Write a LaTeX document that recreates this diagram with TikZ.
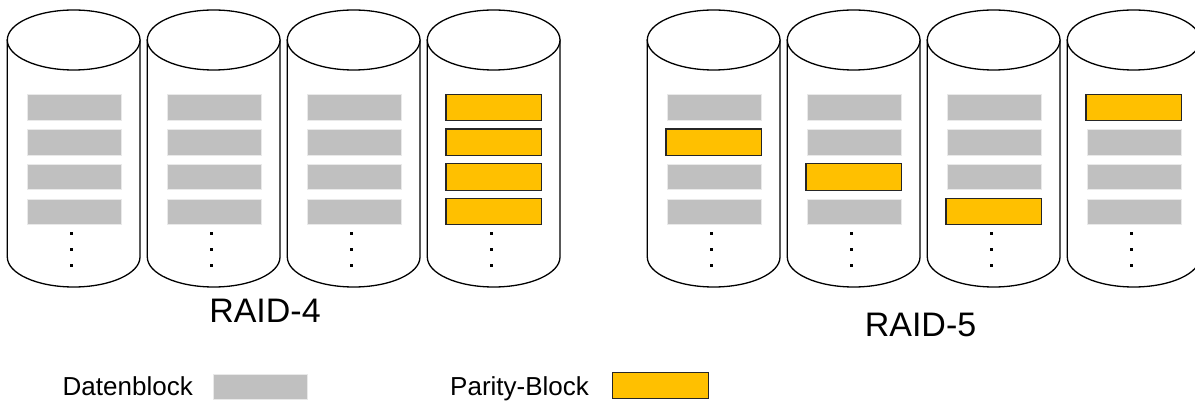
\documentclass[tikz,border=0pt]{standalone}
\usepackage{fontspec}
\setmainfont{Liberation Sans}
\definecolor{datagray}{HTML}{C0C0C0}
\definecolor{parityorange}{HTML}{FFC000}
\begin{document}
\begin{tikzpicture}[x=1pt,y=-1pt,
  disk/.style={draw=black,line width=1.3pt,fill=white},
  datablk/.style={fill=datagray,draw=datagray!35!white,line width=0.6pt,
    minimum width=94pt,minimum height=25.5pt,inner sep=0pt},
  parityblk/.style={fill=parityorange,draw=black!85,line width=1.2pt,
    minimum width=95.5pt,minimum height=26.5pt,inner sep=0pt},
  dotmark/.style={fill=black},
  raidlabel/.style={anchor=base,inner sep=0pt,font=\fontsize{34}{40}\selectfont},
  legendlabel/.style={anchor=base west,inner sep=0pt,font=\fontsize{26}{30}\selectfont}]
\useasboundingbox (0,0) rectangle (1195,403);
\clip (0,0) rectangle (1195,403);

% cylinder outline: sides and lower rim, then the top ellipse, then the ellipsis dots
\newcommand\diskshape[1]{%
  \path[disk] (#1,40) -- (#1,257) arc[start angle=180,end angle=360,x radius=66.35pt,y radius=30pt]
    -- ({#1+132.7},40) -- cycle;
  \draw[disk] ({#1+66.35},40) ellipse[x radius=66.35pt,y radius=30pt];
  \foreach \dy in {233.3,249.5,265.7}{
    \fill[dotmark] ({#1+62.6},{\dy-1.4}) rectangle ++(2.8,2.8);
  }
}

% RAID-4: three data disks and one dedicated parity disk
\foreach \k/\l in {1/7.3,2/147.3,3/287.3,4/427.3}{
  \diskshape{\l}
  \foreach \r/\y in {1/107.5,2/142.2,3/176.9,4/211.6}{
    \ifnum\k=4
      \node[parityblk] (rfour-\k-\r) at ({\l+66.5},\y) {};
    \else
      \node[datablk] (rfour-\k-\r) at ({\l+66.5},\y) {};
    \fi
  }
}
\node[raidlabel] (rfourlabel) at (265,323) {RAID-4};

% RAID-5: parity rotates across the disks
\foreach \k/\l/\p in {1/647.3/2,2/787.3/3,3/927.3/4,4/1067.3/1}{
  \diskshape{\l}
  \foreach \r/\y in {1/107.5,2/142.2,3/176.9,4/211.6}{
    \ifnum\r=\p
      \node[parityblk] (rfive-\k-\r) at ({\l+66.5},\y) {};
    \else
      \node[datablk] (rfive-\k-\r) at ({\l+66.5},\y) {};
    \fi
  }
}
\node[raidlabel] (rfivelabel) at (920.5,336.7) {RAID-5};

% legend
\node[legendlabel] (legdata) at (62.5,395.7) {Datenblock};
\node[datablk] (legdatabox) at (260,387) {};
\node[legendlabel] (legparity) at (450,395.7) {Parity-Block};
\node[parityblk] (legparitybox) at (660.5,385.5) {};
\end{tikzpicture}
\end{document}
